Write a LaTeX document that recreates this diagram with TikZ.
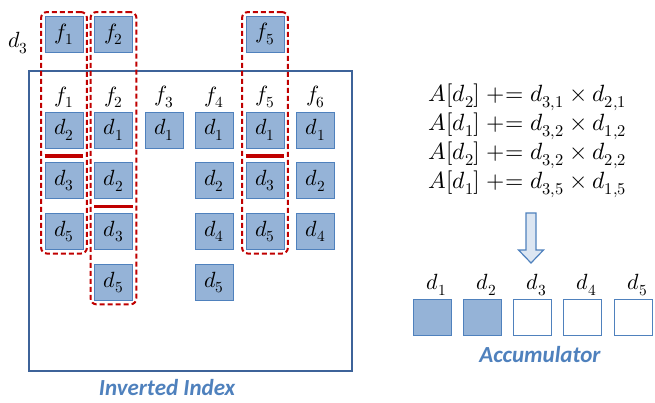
\documentclass[tikz,border=0pt]{standalone}
\usepackage{fontspec}
\usepackage{unicode-math}
\setmathfont{Latin Modern Math}
\usetikzlibrary{fit}
\newfontfamily\labelfont{Carlito}
\newcommand\cellsize{\fontsize{22}{26}\selectfont}
\newcommand\eqsize{\fontsize{23.5}{28}\selectfont}
\definecolor{cellfill}{HTML}{95B3D7}
\definecolor{cellline}{HTML}{4F81BD}
\definecolor{frameblue}{HTML}{3D6399}
\definecolor{hitred}{HTML}{C00000}
\definecolor{arrowfill}{HTML}{DCE6F2}

\begin{document}
\begin{tikzpicture}[x=1pt,y=-1pt,
  cell/.style={draw=cellline,fill=cellfill,line width=0.9pt,minimum width=38pt,minimum height=36pt,inner sep=0pt,font=\cellsize},
  term/.style={font=\cellsize,inner sep=1pt},
  update/.style={font=\eqsize,inner sep=1pt},
  hitline/.style={hitred,line width=3.5pt},
  hitgroup/.style={draw=hitred,line width=2pt,dash pattern=on 5pt off 3pt,rounded corners=6pt,inner sep=3.5pt},
  caption/.style={font=\labelfont\bfseries\itshape\fontsize{23}{28}\selectfont,text=cellline,inner sep=0pt,anchor=base}]
\useasboundingbox (0,0) rectangle (655,403);

% query document
\node[term] (qd) at (18,43) {$d_3$};
\node[cell] (q1) at (64,34) {$f_1$};
\node[cell] (q2) at (113.5,34) {$f_2$};
\node[cell] (q5) at (265,34) {$f_5$};

% inverted index
\draw[frameblue,line width=1.5pt] (29,71) rectangle (352,371);
\foreach \col/\x/\docs in {1/64/{2,3,5},2/113.5/{1,2,3,5},3/164/{1},4/214/{1,2,4,5},5/265/{1,3,5},6/315.5/{1,2,4}} {
  \node[term] (f\col) at (\x,97) {$f_{\col}$};
  \foreach \d [count=\r] in \docs
    \node[cell] (p\col-\r) at (\x,{130+50.8*(\r-1)}) {$d_{\d}$};
}
\draw[hitline] ([yshift=-7.5pt]p1-1.south west) -- ([yshift=-7.5pt]p1-1.south east);
\draw[hitline] ([yshift=-7.5pt]p2-2.south west) -- ([yshift=-7.5pt]p2-2.south east);
\draw[hitline] ([yshift=-7.5pt]p5-1.south west) -- ([yshift=-7.5pt]p5-1.south east);
\node[hitgroup,fit=(q1)(p1-3)] (g1) {};
\node[hitgroup,fit=(q2)(p2-4)] (g2) {};
\node[hitgroup,fit=(q5)(p5-3)] (g5) {};
\node[caption] (idxcap) at (167,395) {Inverted Index};

% score updates
\node[update] (e1) at (527.5,97) {$A[d_2] \mathrel{+}\mathrel{=} d_{3,1} \times d_{2,1}$};
\node[update] (e2) at (527.5,126) {$A[d_1] \mathrel{+}\mathrel{=} d_{3,2} \times d_{1,2}$};
\node[update] (e3) at (527.5,155) {$A[d_2] \mathrel{+}\mathrel{=} d_{3,2} \times d_{2,2}$};
\node[update] (e4) at (527.5,184) {$A[d_1] \mathrel{+}\mathrel{=} d_{3,5} \times d_{1,5}$};
\draw[cellline,fill=arrowfill,line width=1.2pt,line join=miter]
  (526,213) -- (536,213) -- (536,250) -- (543.5,250) -- (531,263) -- (518.5,250) -- (526,250) -- cycle;

% accumulator
\foreach \i/\x/\f in {1/432.5/cellfill,2/482.5/cellfill,3/532.5/white,4/582.5/white,5/633.5/white} {
  \node[cell,fill=\f] (a\i) at (\x,317.5) {};
  \node[term] (l\i) at (\x+4,285) {$d_{\i}$};
}
\node[caption] (acccap) at (540,362) {Accumulator};
\end{tikzpicture}
\end{document}
